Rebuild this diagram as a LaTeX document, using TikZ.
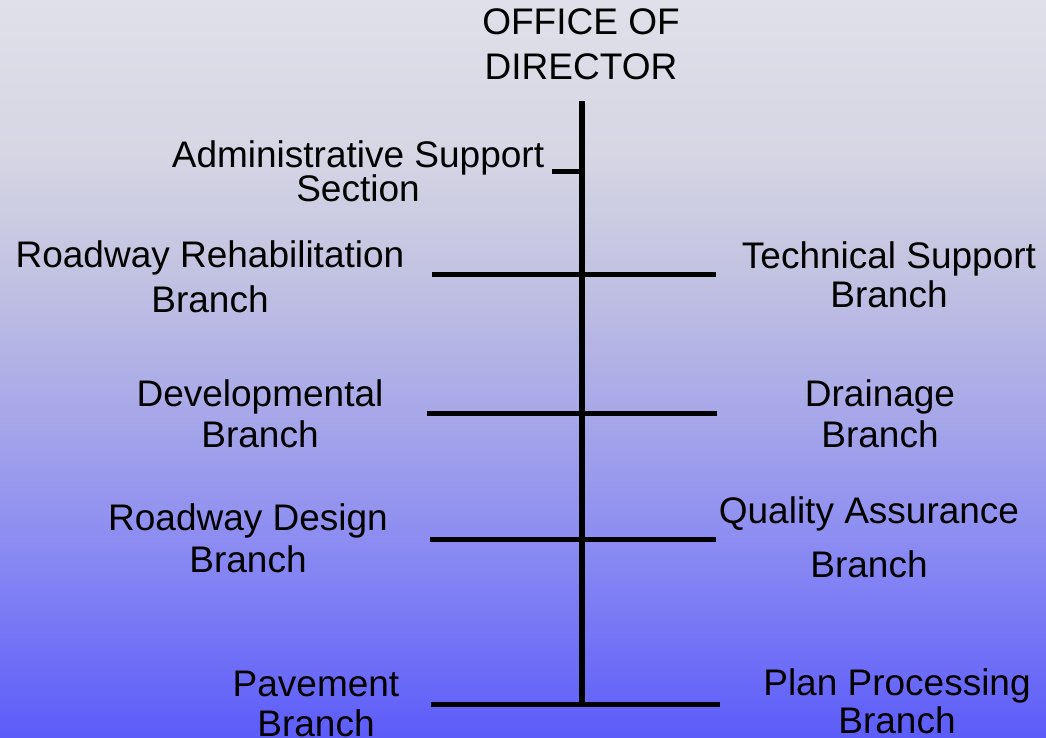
\documentclass[tikz,border=0pt]{standalone}
\usepackage{fontspec}
\setmainfont{Liberation Sans}
\definecolor{bgA}{RGB}{224,224,234}
\definecolor{bgB}{RGB}{214,214,228}
\definecolor{bgC}{RGB}{195,195,226}
\definecolor{bgD}{RGB}{170,170,232}
\definecolor{bgE}{RGB}{140,140,242}
\definecolor{bgF}{RGB}{92,92,250}
\pgfdeclareverticalshading{bgshade}{100bp}{color(0bp)=(bgF); color(25bp)=(bgF); color(38.4bp)=(bgE); color(47.9bp)=(bgD); color(56.7bp)=(bgC); color(64.8bp)=(bgB); color(75bp)=(bgA); color(100bp)=(bgA)}
\begin{document}
\begin{tikzpicture}[x=1pt,y=-1pt,
  lbl/.style={align=center, anchor=base, inner sep=0pt, font=\fontsize{37}{37}\selectfont},
  trunk/.style={line width=6pt},
  branch/.style={line width=5pt}]
\shade[shading=bgshade] (0,0) rectangle (1046,738);
\useasboundingbox (0,0) rectangle (1046,738);

% labels (anchored at the baseline of their last line)
\node[lbl] (dir)  at (581,80)  {OFFICE OF\\[8pt]DIRECTOR};
\node[lbl] (adm)  at (358,201) {Administrative Support\\[-3pt]Section};
\node[lbl] (rrb)  at (210,312) {Roadway Rehabilitation\\[8pt]Branch};
\node[lbl] (tsb)  at (889,307) {Technical Support\\[2pt]Branch};
\node[lbl] (dvb)  at (260,447) {Developmental\\[4pt]Branch};
\node[lbl] (drb)  at (880,447) {Drainage\\[4pt]Branch};
\node[lbl] (rdb)  at (248,572) {Roadway Design\\[5pt]Branch};
\node[lbl] (qab)  at (869,577) {Quality Assurance\\[17pt]Branch};
\node[lbl] (pvb)  at (316,736) {Pavement\\[3pt]Branch};
\node[lbl] (ppb)  at (897,733) {Plan Processing\\[1pt]Branch};

% trunk points
\coordinate (t0) at (582,101);
\coordinate (tA) at (582,172);
\coordinate (t1) at (582,274);
\coordinate (t2) at (582,413);
\coordinate (t3) at (582,539);
\coordinate (t4) at (582,704);
% branch ends
\coordinate (aL) at (552,172);
\coordinate (l1) at (432,274);
\coordinate (r1) at (716,274);
\coordinate (l2) at (427,413);
\coordinate (r2) at (717,413);
\coordinate (l3) at (430,539);
\coordinate (r3) at (716,539);
\coordinate (l4) at (431,704);
\coordinate (r4) at (720,704);

\draw[branch] (aL) -- (tA);
\draw[branch] (l1) -- (r1);
\draw[branch] (l2) -- (r2);
\draw[branch] (l3) -- (r3);
\draw[branch] (l4) -- (r4);
\draw[trunk] (t0) -- (t4);
\end{tikzpicture}
\end{document}
